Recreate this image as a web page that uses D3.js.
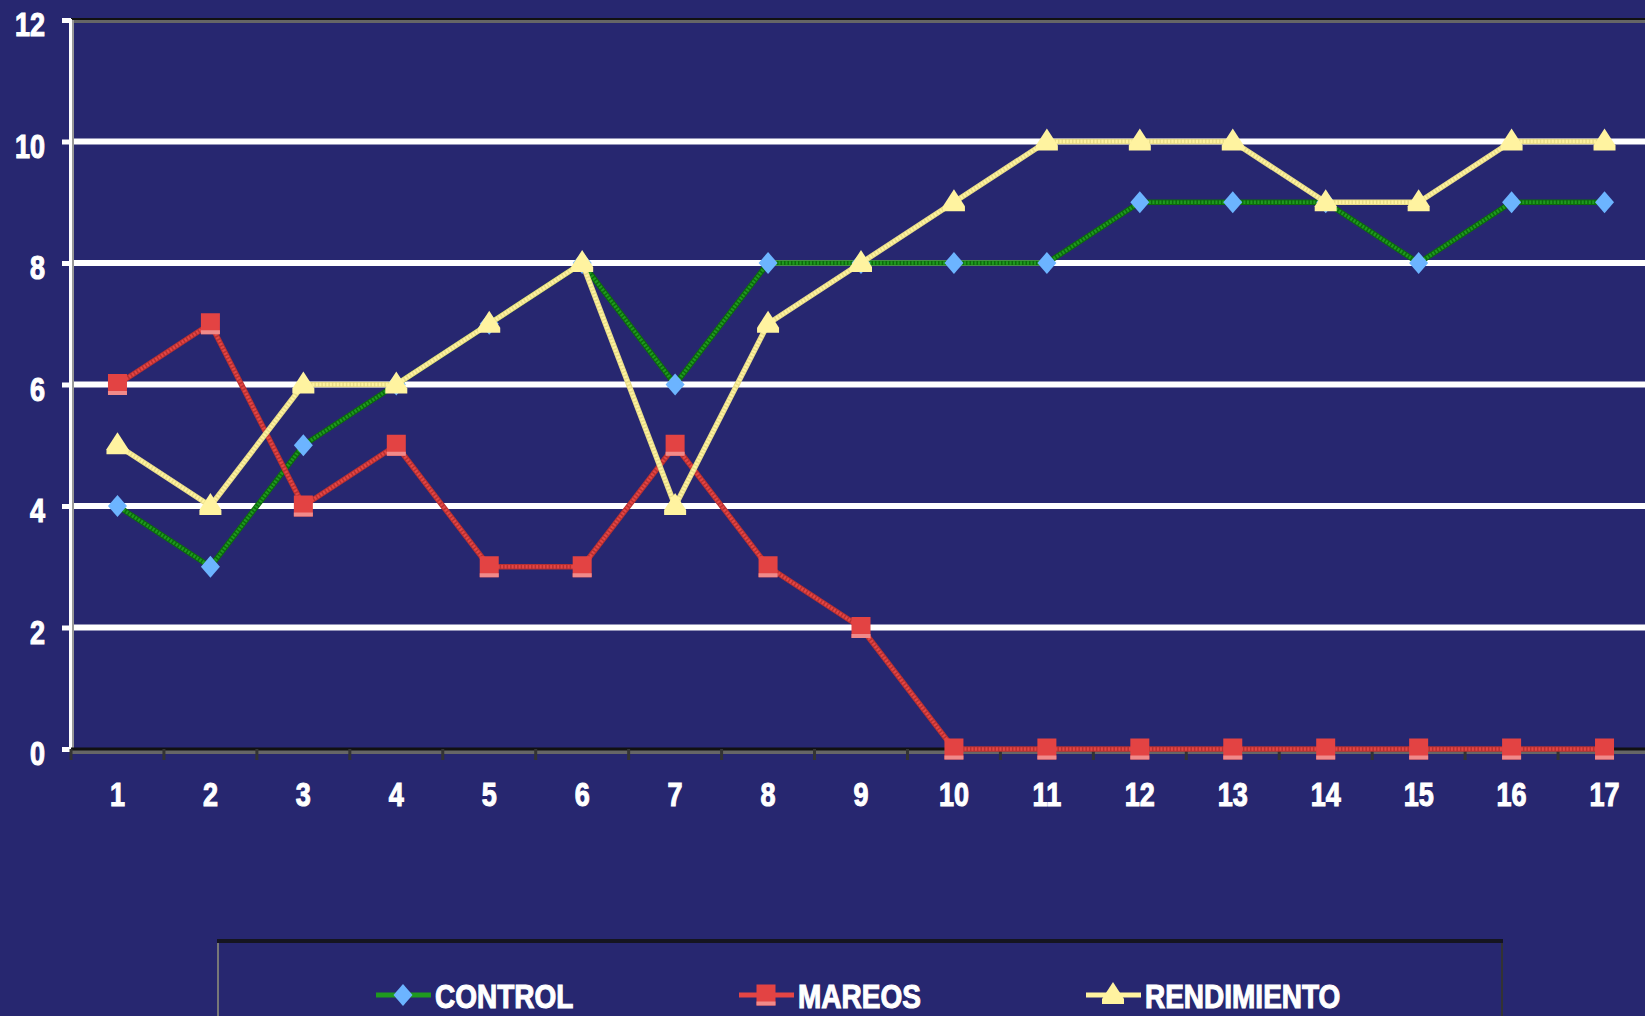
<!DOCTYPE html>
<html><head><meta charset="utf-8">
<script src="https://cdn.jsdelivr.net/npm/d3@7"></script>
<style>
html,body{margin:0;padding:0;background:#272770;overflow:hidden}
svg{display:block}
text{font-family:"Liberation Sans",Arial,sans-serif;font-weight:bold;fill:#fff;stroke:#fff;stroke-width:0.9px}
</style></head>
<body><svg id="c" width="1645" height="1016"></svg>
<script>
const categories = [1,2,3,4,5,6,7,8,9,10,11,12,13,14,15,16,17];
const control     = [4,3,5,6,7,8,6,8,8,8,8,9,9,9,8,9,9];
const mareos      = [6,7,4,5,3,3,5,3,2,0,0,0,0,0,0,0,0];
const rendimiento = [5,4,6,6,7,8,4,7,8,9,10,10,10,9,9,10,10];
const yTicks = [0,2,4,6,8,10,12];
const seriesNames = ["CONTROL","MAREOS","RENDIMIENTO"];

const W = 1645, H = 1016;
const svg = d3.select("#c");
svg.append("rect").attr("width",W).attr("height",H).attr("fill","#272770");

const x = d3.scaleBand().domain(categories).range([71,1651]).paddingInner(0).paddingOuter(0);
const y = d3.scaleLinear().domain([0,12]).range([749,20]);
const cx = d => x(d) + x.bandwidth()/2;

// gridlines
svg.append("g").selectAll("line").data(yTicks.filter(t=>t>0 && t<12)).join("line")
  .attr("x1",71).attr("x2",W).attr("y1",d=>y(d)).attr("y2",d=>y(d))
  .attr("stroke","#ffffff").attr("stroke-width",6);

// top border
svg.append("line").attr("x1",71).attr("x2",W).attr("y1",y(12)+1.5).attr("y2",y(12)+1.5)
  .attr("stroke","#666").attr("stroke-width",3);
svg.append("line").attr("x1",71).attr("x2",W).attr("y1",y(12)-1).attr("y2",y(12)-1)
  .attr("stroke","#111").attr("stroke-width",2);

// y axis
const yAxis = d3.axisLeft(y).tickValues(yTicks).tickSize(9).tickFormat("");
const gy = svg.append("g").attr("transform","translate(71,0)").call(yAxis);
gy.select(".domain").remove();
gy.selectAll(".tick line").attr("stroke","#fff").attr("stroke-width",5);
svg.append("line").attr("x1",73).attr("x2",73).attr("y1",y(12)).attr("y2",y(0))
  .attr("stroke","#999").attr("stroke-width",2);
svg.append("line").attr("x1",70.5).attr("x2",70.5).attr("y1",y(12)-1).attr("y2",y(0)+1)
  .attr("stroke","#fff").attr("stroke-width",3);

// x axis
svg.append("line").attr("x1",71).attr("x2",W).attr("y1",y(0)+3).attr("y2",y(0)+3)
  .attr("stroke","#666").attr("stroke-width",4);
svg.append("line").attr("x1",71).attr("x2",W).attr("y1",y(0)).attr("y2",y(0))
  .attr("stroke","#111").attr("stroke-width",3);
svg.append("g").selectAll("line").data(categories).join("line")
  .attr("x1",d=>x(d)).attr("x2",d=>x(d)).attr("y1",y(0)).attr("y2",y(0)+11)
  .attr("stroke","#333").attr("stroke-width",3);

// y labels
svg.append("g").selectAll("text").data(yTicks).join("text")
  .attr("text-anchor","end")
  .attr("transform",d=>`translate(45,${y(d)+5}) scale(1,1.2)`)
  .attr("dy","0.35em").attr("font-size",27).text(d=>d);

// x labels
svg.append("g").selectAll("text").data(categories).join("text")
  .attr("text-anchor","middle")
  .attr("transform",d=>`translate(${cx(d)},795) scale(1,1.2)`)
  .attr("dy","0.35em").attr("font-size",27).text(d=>d);

const lineGen = d3.line().x((v,i)=>cx(categories[i])).y(v=>y(v));

function drawSeries(vals, lineColor, shadowColor, markerFn){
  const g = svg.append("g");
  g.append("path").datum(vals).attr("d",lineGen).attr("fill","none")
    .attr("stroke",shadowColor).attr("stroke-width",5.5).attr("stroke-linejoin","round");
  g.append("path").datum(vals).attr("d",lineGen).attr("fill","none")
    .attr("stroke",lineColor).attr("stroke-width",3.5).attr("stroke-linejoin","round")
    .attr("stroke-dasharray","2,1.5");
  vals.forEach((v,i)=>markerFn(g, cx(categories[i]), y(v)));
}

const diamond = (g,px,py,s=1)=>{
  g.append("path").attr("d",`M${px},${py-11*s}L${px+9.5*s},${py}L${px},${py+11*s}L${px-9.5*s},${py}Z`)
    .attr("fill","#6cb4ff");
};
const square = (g,px,py,s=1)=>{
  g.append("rect").attr("x",px-9.5*s).attr("y",py-10.5*s).attr("width",19*s).attr("height",21*s).attr("fill","#e34343");
  g.append("rect").attr("x",px-9.5*s).attr("y",py+6.5*s).attr("width",19*s).attr("height",4*s).attr("fill","#f08a8a");
};
const triangle = (g,px,py,s=1)=>{
  g.append("path").attr("d",`M${px},${py-13*s}L${px+11*s},${py+4*s}L${px+11*s},${py+9*s}L${px-11*s},${py+9*s}L${px-11*s},${py+4*s}Z`)
    .attr("fill","#fff3a0");
};

drawSeries(control, "#1f9a1f", "#0c6a0c", diamond);
drawSeries(mareos, "#e34545", "#b83030", square);
drawSeries(rendimiento, "#fff3a0", "#e8dc88", triangle);

// legend
const lg = svg.append("g");
lg.append("line").attr("x1",218).attr("x2",218).attr("y1",939).attr("y2",H).attr("stroke","#777").attr("stroke-width",2);
lg.append("line").attr("x1",1502).attr("x2",1502).attr("y1",939).attr("y2",H).attr("stroke","#333").attr("stroke-width",2);
lg.append("line").attr("x1",217).attr("x2",1503).attr("y1",941).attr("y2",941).attr("stroke","#151520").attr("stroke-width",4);

const legendItems = [
  {name:seriesNames[0], x0:376, color:"#1f9a1f", m:diamond},
  {name:seriesNames[1], x0:739, color:"#e34545", m:square},
  {name:seriesNames[2], x0:1086, color:"#fff3a0", m:triangle}
];
legendItems.forEach(it=>{
  const ly = 995;
  lg.append("line").attr("x1",it.x0).attr("x2",it.x0+55).attr("y1",ly).attr("y2",ly)
    .attr("stroke",it.color).attr("stroke-width",5);
  it.m(lg, it.x0+27, ly, 1.0);
  lg.append("text").attr("transform",`translate(${it.x0+59},${ly+1}) scale(1,1.2)`)
    .attr("dy","0.35em").attr("font-size",28).text(it.name);
});
</script></body></html>
